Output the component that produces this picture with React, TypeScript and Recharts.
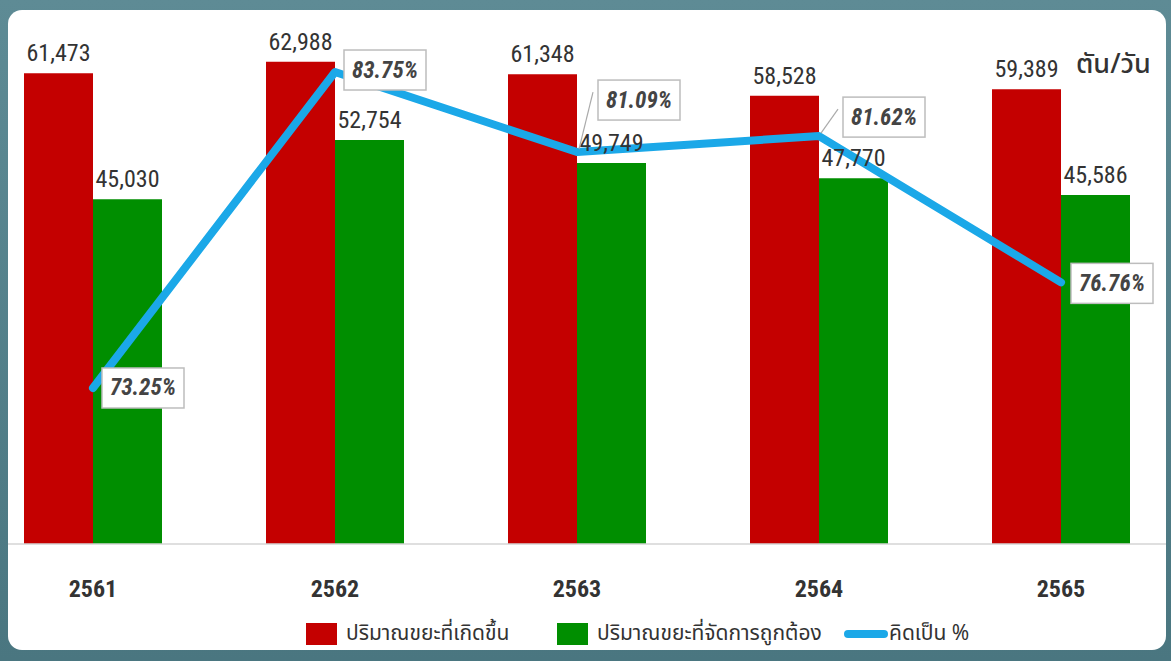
import React from 'react';
import { ComposedChart, Bar, Line, XAxis, YAxis, LabelList, Legend } from 'recharts';

const years = ['2561', '2562', '2563', '2564', '2565'];
const generated = [61473, 62988, 61348, 58528, 59389];
const managed = [45030, 52754, 49749, 47770, 45586];
const percent = [73.25, 83.75, 81.09, 81.62, 76.76];
const seriesNames = ['ปริมาณขยะที่เกิดขึ้น', 'ปริมาณขยะที่จัดการถูกต้อง', 'คิดเป็น %'];
const unitLabel = 'ตัน/วัน';

const RED = '#c40000';
const GREEN = '#008e00';
const BLUE = '#1ba8e8';
const THAI_FONT = "'Noto Sans Thai', 'Noto Sans Thai UI', 'Noto Sans', Roboto, sans-serif";

const data = years.map((y, i) => ({
  year: y,
  generated: generated[i],
  managed: managed[i],
  percent: percent[i],
}));

// label box placement relative to each line point (styling only)
const pctLabelOffsets = [
  { dx: 50, dy: 0, leader: false },
  { dx: 50, dy: -2, leader: false },
  { dx: 62, dy: -52, leader: true },
  { dx: 65, dy: -19, leader: true },
  { dx: 51, dy: 1, leader: false },
];

const PctLabel = (props: any) => {
  const { x, y, value, index } = props;
  const o = pctLabelOffsets[index];
  const cx = x + o.dx;
  const cy = y + o.dy;
  const w = 82;
  const h = 40;
  return (
    <g>
      {o.leader && (
        <line x1={x + 2} y1={y - 3} x2={cx - w / 2 - 5} y2={cy - 8} stroke="#aaa" strokeWidth={1.2} />
      )}
      <rect x={cx - w / 2} y={cy - h / 2} width={w} height={h} fill="#fff" stroke="#bdbdbd" strokeWidth={1.5} />
      <text
        x={cx}
        y={cy}
        textAnchor="middle"
        dominantBaseline="central"
        fontStyle="italic"
        fontWeight={700}
        fontSize={23}
        fill="#444"
        fontFamily="Roboto"
        style={{ fontStretch: 'condensed' }}
      >
        {Number(value).toFixed(2)}%
      </text>
    </g>
  );
};

const fmt = (v: any) => Number(v).toLocaleString('en-US');

const itemWidths = [251, 287, 160];

const LegendContent = (props: any) => {
  const payload = [...(props.payload || [])].sort(
    (a: any, b: any) => seriesNames.indexOf(a.value) - seriesNames.indexOf(b.value)
  );
  return (
    <div style={{ display: 'flex', alignItems: 'center', height: 26, fontFamily: THAI_FONT, fontSize: 21, color: '#333', whiteSpace: 'nowrap', lineHeight: '26px' }}>
      {payload.map((entry: any, i: number) => (
        <div key={i} style={{ display: 'flex', alignItems: 'center', width: itemWidths[i], flexShrink: 0 }}>
          {entry.type === 'line' ? (
            <span style={{ display: 'inline-block', flexShrink: 0, width: 44, height: 8, borderRadius: 4, background: entry.color, marginRight: 1 }} />
          ) : (
            <span style={{ display: 'inline-block', flexShrink: 0, width: 31, height: 22, background: entry.color, marginRight: 9 }} />
          )}
          <span style={{ fontStretch: 'condensed' }}>{entry.value}</span>
        </div>
      ))}
    </div>
  );
};

export default function App() {
  return (
    <div
      style={{
        position: 'absolute',
        left: 0,
        top: 0,
        width: 1171,
        height: 661,
        overflow: 'hidden',
        background: 'linear-gradient(180deg, #5e8b95 0%, #4a7680 100%)',
      }}
    >
      <div
        style={{
          position: 'absolute',
          left: 8,
          top: 10,
          width: 1158,
          height: 640,
          background: '#fff',
          borderRadius: 14,
          overflow: 'hidden',
        }}
      >
        <div style={{ position: 'absolute', left: -36, top: -10 }}>
          <ComposedChart
            width={1210}
            height={661}
            data={data}
            margin={{ top: 8, right: 0, bottom: 0, left: 0 }}
            barGap={0}
          >
            <XAxis
              dataKey="year"
              height={117}
              tickLine={false}
              axisLine={{ stroke: '#d4d4d4', strokeWidth: 1.5 }}
              tickMargin={30}
              tick={{ fill: '#333', fontSize: 24, fontWeight: 700, fontFamily: 'Roboto', style: { fontStretch: 'condensed' } } as any}
            />
            <YAxis yAxisId="left" hide domain={[0, 70000]} />
            <YAxis yAxisId="right" orientation="right" hide domain={[68.066, 85.877]} />
            <Legend
              layout="horizontal"
              verticalAlign="middle"
              align="center"
              content={<LegendContent />}
              wrapperStyle={{ left: 334, top: 621, width: 720, height: 26 }}
            />
            <Bar yAxisId="left" dataKey="generated" name={seriesNames[0]} fill={RED} barSize={69} legendType="rect" isAnimationActive={false}>
              <LabelList
                dataKey="generated"
                position="top"
                offset={12}
                formatter={fmt}
                style={{ fill: '#333', fontSize: 24, fontFamily: 'Roboto', fontStretch: 'condensed' } as any}
              />
            </Bar>
            <Bar yAxisId="left" dataKey="managed" name={seriesNames[1]} fill={GREEN} barSize={69} legendType="rect" isAnimationActive={false}>
              <LabelList
                dataKey="managed"
                position="top"
                offset={12}
                formatter={fmt}
                style={{ fill: '#333', fontSize: 24, fontFamily: 'Roboto', fontStretch: 'condensed' } as any}
              />
            </Bar>
            <Line
              yAxisId="right"
              dataKey="percent"
              name={seriesNames[2]}
              stroke={BLUE}
              strokeWidth={8}
              strokeLinecap="round"
              strokeLinejoin="round"
              dot={false}
              activeDot={false}
              legendType="line"
              isAnimationActive={false}
            >
              <LabelList dataKey="percent" content={<PctLabel />} />
            </Line>
          </ComposedChart>
        </div>
        <div
          style={{
            position: 'absolute',
            left: 1068,
            top: 38,
            fontFamily: THAI_FONT,
            fontSize: 27,
            fontWeight: 500,
            color: '#333',
            lineHeight: '34px',
            whiteSpace: 'nowrap',
          }}
        >
          {unitLabel}
        </div>
      </div>
    </div>
  );
}
